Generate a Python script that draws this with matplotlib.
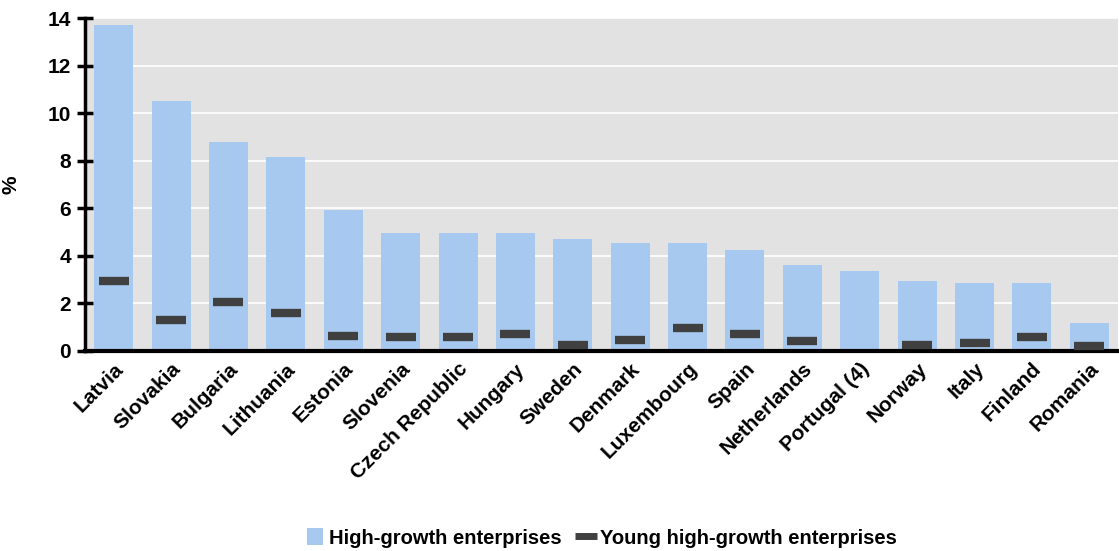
import matplotlib
matplotlib.use('Agg')
import matplotlib.pyplot as plt
import numpy as np

plt.rcParams['font.family'] = ['Liberation Sans', 'DejaVu Sans']
plt.rcParams['font.weight'] = 'bold'

countries = ['Latvia', 'Slovakia', 'Bulgaria', 'Lithuania', 'Estonia', 'Slovenia',
             'Czech Republic', 'Hungary', 'Sweden', 'Denmark', 'Luxembourg', 'Spain',
             'Netherlands', 'Portugal (4)', 'Norway', 'Italy', 'Finland', 'Romania']
high_growth = [13.7, 10.5, 8.8, 8.15, 5.92, 4.96, 4.96, 4.96, 4.7, 4.54, 4.54, 4.24,
               3.62, 3.36, 2.94, 2.86, 2.86, 1.18]
young_high_growth = [2.95, 1.3, 2.05, 1.6, 0.65, 0.58, 0.58, 0.7, 0.27, 0.47, 0.98, 0.7,
                     0.43, np.nan, 0.27, 0.33, 0.58, 0.22]

fig = plt.figure(figsize=(11.19, 5.51), dpi=100)
ax = fig.add_axes([85 / 1119, 1 - 351 / 551, (1118 - 85) / 1119, (351 - 18) / 551])
ax.set_facecolor('#e2e2e2')

x = np.arange(len(countries))
bars = ax.bar(x, high_growth, width=0.68, color='#a7c9ef', label='High-growth enterprises', zorder=2)
marks, = ax.plot(x, young_high_growth, linestyle='none', marker='_', markersize=21,
                 markeredgewidth=6, color='#404040', label='Young high-growth enterprises', zorder=3)

ax.set_xlim(-0.5, len(countries) - 0.5)
ax.set_ylim(0, 14)
ax.set_yticks(range(0, 15, 2))
ax.yaxis.grid(True, color='white', linewidth=1.2, zorder=0)
ax.set_axisbelow(True)

for s in ['top', 'right']:
    ax.spines[s].set_visible(False)
ax.spines['left'].set_linewidth(2.5)
ax.spines['bottom'].set_linewidth(3)

ax.tick_params(axis='y', direction='inout', length=12, width=2.5, labelsize=15, pad=4)
ax.tick_params(axis='x', length=0, labelsize=15, pad=6)
ax.set_xticks(x)
ax.set_xticklabels(countries, rotation=45, ha='right', rotation_mode='anchor')
ax.set_ylabel('%', fontsize=15, fontweight='bold')
ax.yaxis.set_label_coords(-0.062, 0.5)

# legend marker is drawn smaller than in the plot
leg = fig.legend([bars, marks], ['High-growth enterprises', 'Young high-growth enterprises'],
                 loc='center', bbox_to_anchor=(0.538, 1 - 538 / 551), ncol=2, frameon=False,
                 fontsize=14.5, handlelength=0.8, handleheight=0.9, handletextpad=0.3,
                 columnspacing=0.8)
leg.legend_handles[1].set_markersize(16)
leg.legend_handles[1].set_markeredgewidth(5)

plt.savefig('out.png', dpi=100)
